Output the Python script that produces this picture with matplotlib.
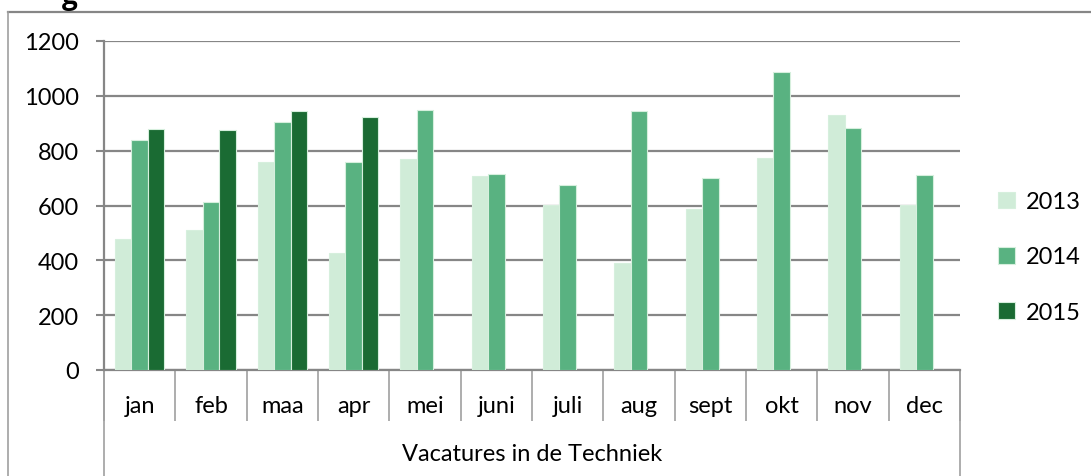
import matplotlib
matplotlib.use('Agg')
import matplotlib.pyplot as plt
from matplotlib.lines import Line2D
from matplotlib.patches import Patch
import numpy as np

months = ['jan', 'feb', 'maa', 'apr', 'mei', 'juni', 'juli', 'aug', 'sept', 'okt', 'nov', 'dec']
years = ['2013', '2014', '2015']
v2013 = [478, 510, 757, 425, 770, 707, 601, 391, 586, 773, 931, 603]
v2014 = [840, 614, 903, 760, 949, 714, 676, 946, 699, 1088, 883, 710]
v2015 = [880, 876, 945, 922, np.nan, np.nan, np.nan, np.nan, np.nan, np.nan, np.nan, np.nan]
group_label = 'Vacatures in de Techniek'

colors = ['#d0ecd8', '#59b281', '#1a6b33']
edge = '#d6efdd'
grid_c = '#868686'
fs = 17

plt.rcParams['font.family'] = ['Lato', 'DejaVu Sans']

W, H = 1091, 477
fig = plt.figure(figsize=(W / 100, H / 100), dpi=100)
x0, x1, y0, y1 = 104, 960, 371, 42
ax = fig.add_axes([x0 / W, 1 - y0 / H, (x1 - x0) / W, (y0 - y1) / H])

x = np.arange(len(months))
bw = 0.229
for i, (vals, c) in enumerate(zip([v2013, v2014, v2015], colors)):
    ax.bar(x + (i - 1) * bw, vals, bw, color=c, edgecolor=edge, linewidth=0.8, zorder=3)

ax.set_xlim(-0.5, len(months) - 0.5)
ax.set_ylim(0, 1200)
ax.set_yticks(range(0, 1201, 200))
ax.yaxis.grid(True, color=grid_c, linewidth=1.6, zorder=0)
ax.tick_params(axis='y', length=6, width=1.5, color=grid_c, pad=12, labelsize=fs)
for s in ['top', 'right']:
    ax.spines[s].set_visible(False)
for s in ['left', 'bottom']:
    ax.spines[s].set_color(grid_c)
    ax.spines[s].set_linewidth(1.6)

# category boundaries as ticks
ax.set_xticks(np.arange(len(months) + 1) - 0.5)
ax.set_xticklabels([])
ax.tick_params(axis='x', length=37, width=1.2, color='#a0a0a0', direction='out')

trans = ax.get_xaxis_transform()
for i, m in enumerate(months):
    ax.text(i, -0.109, m, transform=trans, ha='center', va='center', fontsize=fs)
ax.text(0.5, -0.255, group_label, transform=ax.transAxes, ha='center', va='center', fontsize=fs)
for xb in [-0.5, len(months) - 0.5]:
    ax.add_line(Line2D([xb, xb], [0, -0.33], transform=trans, color='#a0a0a0',
                       linewidth=1.2, clip_on=False))

# outer chart frame
fig.add_artist(Line2D([8 / W, 1], [1 - 13 / H, 1 - 13 / H], color=grid_c, linewidth=1.6))
fig.add_artist(Line2D([8 / W, 8 / W], [0, 1 - 13 / H], color='#a0a0a0', linewidth=1.2))
fig.text(62 / W, 1 + 4 / H, 'g', fontsize=20, fontweight='bold', va='center', ha='left',
         family=['Open Sans', 'DejaVu Sans'])

handles = [Patch(facecolor=c, edgecolor=edge, linewidth=0.8) for c in colors]
fig.legend(handles, years, loc='center left', bbox_to_anchor=(977 / W, 1 - 258 / H),
           frameon=False, fontsize=fs, handlelength=0.7, handleheight=0.7,
           handletextpad=0.45, labelspacing=1.46)

fig.savefig('out.png', dpi=100)
